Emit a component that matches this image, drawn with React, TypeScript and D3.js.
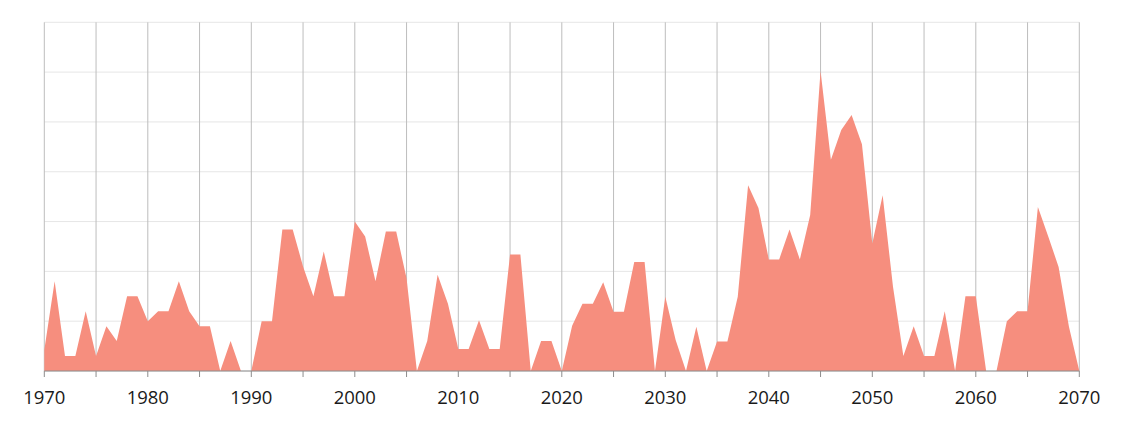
import React from "react";
import * as d3 from "d3";

const years: number[] = d3.range(1970, 2071);
const values: number[] = [
  4.2, 18, 3, 3, 12, 3, 9, 6, 15, 15,
  10, 12, 12, 18, 12, 9, 9, 0, 6, 0,
  0, 10, 10, 28.4, 28.4, 21, 15, 24, 15, 15,
  30, 27, 18, 28, 28, 18.6, 0, 6, 19.3, 13.5,
  4.4, 4.4, 10.2, 4.4, 4.4, 23.4, 23.4, 0, 6, 6,
  0, 9.1, 13.5, 13.5, 17.8, 11.9, 11.9, 21.9, 21.9, 0,
  14.9, 6.2, 0, 8.9, 0, 5.9, 5.9, 14.9, 37.3, 32.7,
  22.4, 22.4, 28.4, 22.4, 31.3, 60.2, 42.4, 48.4, 51.4, 45.5,
  25.6, 35.3, 16.9, 3, 9, 3, 3, 12, 0, 15,
  15, 0, 0, 10, 12, 12, 32.9, 27, 20.9, 8.9,
  0,
];
const xTicks: number[] = d3.range(1970, 2071, 10);
const xGrid: number[] = d3.range(1970, 2071, 5);
const yGrid: number[] = d3.range(0, 71, 10);

export default function App() {
  const W = 1124, H = 423;
  const left = 44.3, right = 1079.3, top = 22.3, bottom = 371;
  const x = d3.scaleLinear().domain([1970, 2070]).range([left, right]);
  const y = d3.scaleLinear().domain([0, 70]).range([bottom, top]);
  const data = years.map((yr, i) => ({ yr, v: values[i] }));
  const area = d3
    .area<{ yr: number; v: number }>()
    .x((d) => x(d.yr))
    .y0(y(0))
    .y1((d) => y(d.v));
  return (
    <svg
      width={W}
      height={H}
      style={{ position: "absolute", left: 0, top: 0 }}
      fontFamily="'Open Sans', sans-serif"
    >
      <rect width={W} height={H} fill="#fff" />
      {yGrid.map((g) => (
        <line key={"h" + g} x1={left} x2={right} y1={y(g)} y2={y(g)} stroke="#e6e6e6" strokeWidth={1} />
      ))}
      {xGrid.map((g) => (
        <line key={"v" + g} x1={x(g)} x2={x(g)} y1={top} y2={bottom} stroke="#bdbdbd" strokeWidth={1} />
      ))}
      <path d={area(data) || ""} fill="#F68E7E" />
      <line x1={left} x2={right} y1={bottom} y2={bottom} stroke="#8c8c8c" strokeWidth={1} />
      {xGrid.map((g) => (
        <line key={"t" + g} x1={x(g)} x2={x(g)} y1={bottom} y2={bottom + 6} stroke="#8c8c8c" strokeWidth={1} />
      ))}
      {xTicks.map((t) => (
        <text key={"l" + t} x={x(t)} y={404} textAnchor="middle" fontSize={18.5} fill="#1a1a1a">
          {t}
        </text>
      ))}
    </svg>
  );
}
